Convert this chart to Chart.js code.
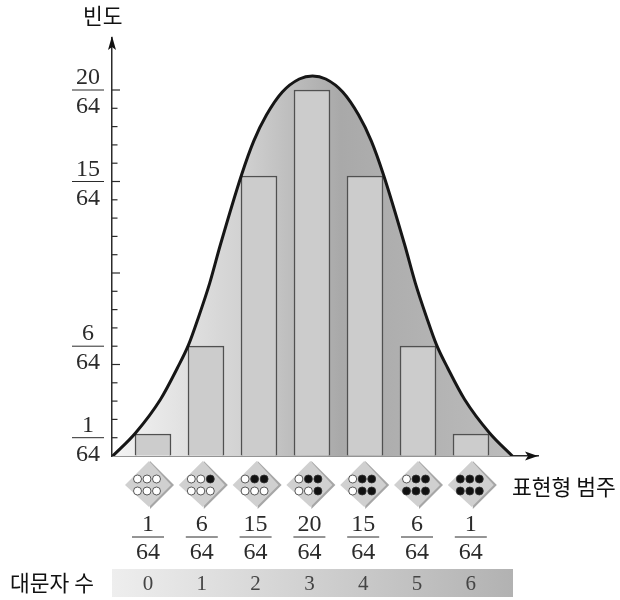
<!DOCTYPE html>
<html>

<head>
    <meta charset="utf-8">
    <title>표현형 범주 빈도</title>
    <script src="https://cdn.jsdelivr.net/npm/chart.js"></script>
    <style>
        body {
            margin: 0;
            background: #fff;
        }

        canvas {
            display: block;
        }
    </style>
</head>

<body>
    <canvas id="chart" width="620" height="600"></canvas>

    <script>
        // 대문자 수 (범주) 와 빈도 (분자, 분모 64)
        const categories = [0, 1, 2, 3, 4, 5, 6];
        const numerators = [1, 6, 15, 20, 15, 6, 1];
        const denominator = 64;
        // 그림에서 읽은 막대 높이 (15 막대는 눈금보다 조금 높게 그려져 있음)
        const barHeights = [1.2, 6, 15.3, 20, 15.3, 6, 1.2];
        const yLabelled = [1, 6, 15, 20];
        const yTicks = [1, 2, 3, 4, 5, 6, 7, 8, 9, 10, 11, 12, 13, 14, 15, 16, 17, 18, 19, 20];

        // 종 모양 곡선: 그림에서 읽은 값
        const curveX = [-0.76, -0.33, 0.14, 0.46, 0.67, 0.86, 1.07, 1.27, 1.67, 1.90, 2.14, 2.44, 2.76, 3.01,
            3.26, 3.58, 3.88, 4.12, 4.35, 4.75, 4.95, 5.16, 5.35, 5.56, 5.88, 6.35, 6.78];
        const curveY = [0, 1.26, 3.09, 4.81, 6.07, 7.60, 9.45, 11.53, 15.36, 17.21, 18.63, 19.89, 20.60, 20.77,
            20.60, 19.89, 18.63, 17.21, 15.36, 11.53, 9.45, 7.60, 6.07, 4.81, 3.09, 1.26, 0];

        const yTitle = '빈도';
        const xTitle = '표현형 범주';
        const stripTitle = '대문자 수';

        const serif = '"Liberation Serif", serif';
        const hangul = '"Noto Sans CJK KR", sans-serif';
        const ink = '#2b2b2b';

        const curvePoints = curveX.map((x, i) => ({ x: x, y: curveY[i] }));

        function fillGradient(context) {
            const chart = context.chart;
            if (!chart.chartArea) {
                return '#bbbbbb';
            }
            const g = chart.ctx.createLinearGradient(112, 0, 513, 0);
            g.addColorStop(0, '#f4f4f4');
            g.addColorStop(0.32, '#d2d2d2');
            g.addColorStop(0.57, '#a9a9a9');
            g.addColorStop(0.8, '#b3b3b3');
            g.addColorStop(1, '#bcbcbc');
            return g;
        }

        // 다이아몬드 아이콘
        const darkOrder = [[2, 0], [1, 0], [2, 1], [1, 1], [0, 1], [0, 0]];

        function drawIcon(ctx, cx, cy, dark) {
            const r = 24;
            ctx.fillStyle = '#a6a6a6';
            ctx.beginPath();
            ctx.moveTo(cx + 1, cy - r);
            ctx.lineTo(cx + r + 1, cy);
            ctx.lineTo(cx + 1, cy + r);
            ctx.closePath();
            ctx.fill();
            ctx.fillStyle = '#d0d0d0';
            ctx.beginPath();
            ctx.moveTo(cx, cy - r);
            ctx.lineTo(cx + r - 2, cy);
            ctx.lineTo(cx, cy + r - 2);
            ctx.lineTo(cx - r, cy);
            ctx.closePath();
            ctx.fill();

            const blacks = darkOrder.slice(0, dark).map(p => p.join());
            for (let row = 0; row < 2; row++) {
                for (let col = 0; col < 3; col++) {
                    ctx.beginPath();
                    ctx.arc(cx - 11.5 + col * 9.5, cy - 6 + row * 12, 4, 0, Math.PI * 2);
                    ctx.fillStyle = blacks.includes(col + ',' + row) ? '#111' : '#fff';
                    ctx.fill();
                    ctx.lineWidth = 0.8;
                    ctx.strokeStyle = '#333';
                    ctx.stroke();
                }
            }
        }

        function line(ctx, x1, y1, x2, y2, width) {
            ctx.lineWidth = width;
            ctx.strokeStyle = ink;
            ctx.beginPath();
            ctx.moveTo(x1, y1);
            ctx.lineTo(x2, y2);
            ctx.stroke();
        }

        const decorations = {
            id: 'decorations',
            afterDraw(chart) {
                const ctx = chart.ctx;
                const y = chart.scales.y;
                const lab = chart.scales.x2;
                const area = chart.chartArea;
                ctx.save();

                // y축 눈금
                yTicks.forEach(v => {
                    const py = y.getPixelForValue(v);
                    line(ctx, area.left, py, area.left + (v % 5 === 0 ? 8 : 5.5), py, 1.2);
                });

                // y축 분수 라벨
                ctx.textAlign = 'center';
                ctx.textBaseline = 'middle';
                ctx.font = '24px ' + serif;
                yLabelled.forEach(v => {
                    const py = y.getPixelForValue(v);
                    line(ctx, 72, py, 104, py, 1);
                    ctx.fillStyle = ink;
                    ctx.fillText(String(v), 88, py - 12);
                    ctx.fillText(String(denominator), 88, py + 17);
                });

                // 화살표
                ctx.fillStyle = '#111';
                ctx.beginPath();
                ctx.moveTo(area.left, area.top - 2);
                ctx.lineTo(area.left + 4, area.top + 12);
                ctx.lineTo(area.left, area.top + 9);
                ctx.lineTo(area.left - 4, area.top + 12);
                ctx.closePath();
                ctx.fill();
                ctx.beginPath();
                ctx.moveTo(area.right, area.bottom);
                ctx.lineTo(area.right - 13, area.bottom - 4.5);
                ctx.lineTo(area.right - 10, area.bottom);
                ctx.lineTo(area.right - 13, area.bottom + 4.5);
                ctx.closePath();
                ctx.fill();

                // 아이콘과 아래 분수 막대
                categories.forEach(c => {
                    const px = lab.getPixelForValue(c);
                    drawIcon(ctx, px + 1, 485, c);
                    line(ctx, px - 16, 537, px + 16, 537, 1);
                });

                // 대문자 수 띠
                const g = ctx.createLinearGradient(112, 0, 513, 0);
                g.addColorStop(0, '#eeeeee');
                g.addColorStop(1, '#b2b2b2');
                ctx.fillStyle = g;
                ctx.fillRect(112, 569, 401, 28);
                ctx.fillStyle = '#444';
                ctx.font = '21px ' + serif;
                categories.forEach(c => {
                    ctx.fillText(String(c), lab.getPixelForValue(c), 584);
                });

                // 제목
                ctx.fillStyle = '#111';
                ctx.font = '21.5px ' + hangul;
                ctx.textAlign = 'left';
                ctx.fillText(yTitle, 83, 16);
                ctx.fillText(xTitle, 512, 487);
                ctx.fillText(stripTitle, 10, 583);
                ctx.restore();
            }
        };

        new Chart(document.getElementById('chart'), {
            type: 'bar',
            data: {
                datasets: [
                    {
                        type: 'line',
                        data: curvePoints,
                        borderWidth: 0,
                        pointRadius: 0,
                        cubicInterpolationMode: 'monotone',
                        fill: 'origin',
                        backgroundColor: fillGradient,
                        order: 3
                    },
                    {
                        type: 'bar',
                        data: categories.map((c, i) => ({ x: c, y: barHeights[i] })),
                        barThickness: 36,
                        backgroundColor: '#cccccc',
                        borderColor: '#505050',
                        borderWidth: 1.5,
                        order: 2
                    },
                    {
                        type: 'line',
                        data: curvePoints,
                        borderColor: '#161616',
                        borderWidth: 3,
                        pointRadius: 0,
                        cubicInterpolationMode: 'monotone',
                        fill: false,
                        order: 1
                    }
                ]
            },
            options: {
                responsive: false,
                animation: false,
                layout: { padding: { top: 38, right: 82, left: 0, bottom: 0 } },
                plugins: {
                    legend: { display: false },
                    tooltip: { enabled: false }
                },
                scales: {
                    // 막대 위치용
                    x: {
                        type: 'linear',
                        display: false,
                        offset: false,
                        min: (112 - 153) / 53,
                        max: (538 - 153) / 53
                    },
                    // 아래 분수 라벨과 아이콘 위치용
                    x2: {
                        type: 'linear',
                        position: 'bottom',
                        offset: false,
                        min: (112 - 148) / 53.8,
                        max: (538 - 148) / 53.8,
                        border: { display: true, color: ink, width: 1.5 },
                        grid: { drawOnChartArea: false, drawTicks: false },
                        afterBuildTicks(scale) {
                            scale.ticks = categories.map(c => ({ value: c }));
                        },
                        afterFit(scale) {
                            scale.height = 144;
                        },
                        ticks: {
                            autoSkip: false,
                            maxRotation: 0,
                            padding: 55,
                            color: ink,
                            font: { family: serif, size: 24, lineHeight: '28px' },
                            callback: (value, i) => [String(numerators[i]), String(denominator)]
                        }
                    },
                    y: {
                        min: 0,
                        max: (456 - 38) / 18.3,
                        border: { display: true, color: ink, width: 1.5 },
                        grid: { drawOnChartArea: false, drawTicks: false },
                        afterFit(scale) {
                            scale.width = 112;
                        },
                        ticks: { display: false }
                    }
                }
            },
            plugins: [decorations]
        });
    </script>
</body>

</html>
